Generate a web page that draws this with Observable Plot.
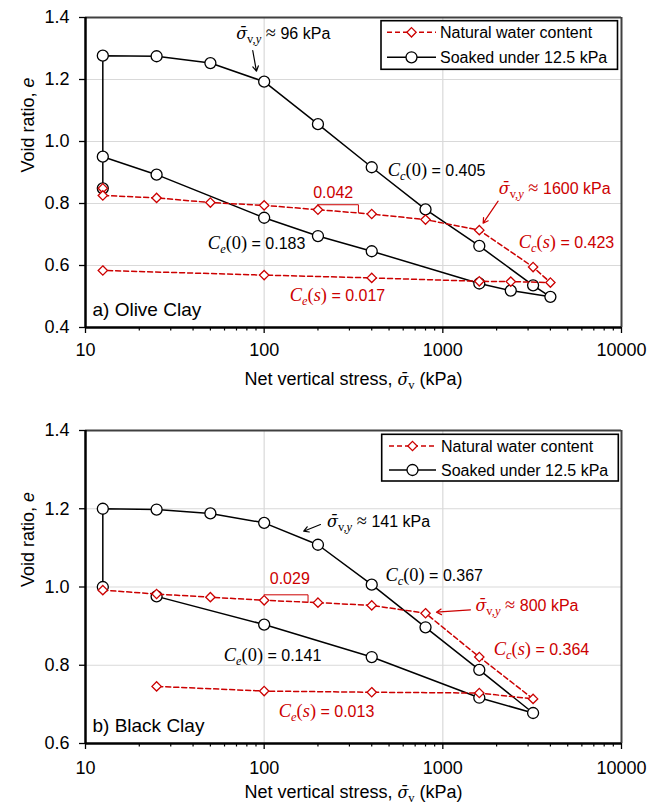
<!DOCTYPE html>
<html><head><meta charset="utf-8">
<script src="https://cdn.jsdelivr.net/npm/d3@7"></script>
<script src="https://cdn.jsdelivr.net/npm/@observablehq/plot@0.6"></script>
<style>body{margin:0;background:#fff} svg{display:block}</style>
</head><body><div id="chart"></div>
<script>
const RED = "#cc0000";

// ---------- a) Olive Clay ----------
const oliveNatStress = [12.5, 12.5, 25, 50, 100, 200, 400, 800, 1600, 3200, 4000, 2400, 1600, 400, 100, 12.5];
const oliveNatE      = [0.849, 0.826, 0.818, 0.803, 0.794, 0.780, 0.766, 0.748, 0.714, 0.595, 0.545, 0.548, 0.549, 0.560, 0.569, 0.584];
const oliveSoakStress = [12.5, 12.5, 25, 50, 100, 200, 400, 800, 1600, 3200, 4000, 2400, 1600, 400, 200, 100, 25, 12.5];
const oliveSoakE      = [0.849, 1.277, 1.275, 1.253, 1.193, 1.056, 0.917, 0.781, 0.663, 0.536, 0.499, 0.519, 0.542, 0.646, 0.695, 0.754, 0.893, 0.951];

// ---------- b) Black Clay ----------
const blackNatStress = [12.5, 25, 50, 100, 200, 400, 800, 1600, 3200, 1600, 400, 100, 25];
const blackNatE      = [0.992, 0.982, 0.974, 0.966, 0.960, 0.953, 0.933, 0.821, 0.714, 0.729, 0.731, 0.734, 0.746];
const blackSoakStress = [12.5, 12.5, 25, 50, 100, 200, 400, 800, 1600, 3200, 1600, 400, 100, 25];
const blackSoakE      = [1.000, 1.200, 1.198, 1.188, 1.164, 1.108, 1.006, 0.897, 0.788, 0.678, 0.717, 0.821, 0.904, 0.976];

// ---------- axes ----------
const xMajorTicks = [10, 100, 1000, 10000];
const xMinorTicks = [20,30,40,50,60,70,80,90,200,300,400,500,600,700,800,900,2000,3000,4000,5000,6000,7000,8000,9000];
const topYTicks = [0.4, 0.6, 0.8, 1.0, 1.2, 1.4];
const botYTicks = [0.6, 0.8, 1.0, 1.2, 1.4];
const SIG = "σ\u0304";
const xTitle = `Net vertical stress, [g:${SIG}][sub:v] (kPa)`;
const yTitle = "Void ratio, [si:e]";
const legendLabels = ["Natural water content", "Soaked under 12.5 kPa"];

// ---------- annotations ----------
const topAnnText = [`[g:${SIG}][sub:v,][isub:y][r: ≈ ]96 kPa`, "[i:C][isub:c][r:(0)] = 0.405", `[g:${SIG}][sub:v,][isub:y][r: ≈ ]1600 kPa`,
  "[i:C][isub:c][r:(][i:s][r:)] = 0.423", "0.042", "[i:C][isub:e][r:(0)] = 0.183", "[i:C][isub:e][r:(][i:s][r:)] = 0.017"];
const topAnnX = [69.7, 491.7, 2055, 2659, 188, 48.4, 139];
const topAnnY = [1.3306, 0.8903, 0.8313, 0.6558, 0.8184, 0.6539, 0.4839];
const topAnnColor = ["black", "black", RED, RED, RED, "black", RED];
const topArrowX1 = [86.3, 2039], topArrowY1 = [1.2935, 0.8074], topArrowX2 = [90.5, 1681], topArrowY2 = [1.2268, 0.7365];
const topArrowColor = ["black", RED];
const topSlopeX = [200, 337, 337], topSlopeY = [0.796, 0.796, 0.771];

const botAnnText = [`[g:${SIG}][sub:v,][isub:y][r: ≈ ]141 kPa`, "[i:C][isub:c][r:(0)] = 0.367", "0.029", `[g:${SIG}][sub:v,][isub:y][r: ≈ ]800 kPa`,
  "[i:C][isub:c][r:(][i:s][r:)] = 0.364", "[i:C][isub:e][r:(0)] = 0.141", "[i:C][isub:e][r:(][i:s][r:)] = 0.013"];
const botAnnX = [225, 477, 107.5, 1522, 1927, 59.4, 120.7];
const botAnnY = [1.1528, 1.0166, 1.0081, 0.9399, 0.8267, 0.8104, 0.6672];
const botAnnColor = ["black", "black", RED, RED, RED, "black", RED];
const botArrowX1 = [206.5, 1427], botArrowY1 = [1.1597, 0.9417], botArrowX2 = [166.5, 921], botArrowY2 = [1.1426, 0.9356];
const botArrowColor = ["black", RED];
const botSlopeX = [100, 176, 176], botSlopeY = [0.98, 0.98, 0.961];

const zip = (xs, ys) => xs.map((x, i) => ({x, y: ys[i]}));

const SANS = "'Liberation Sans', Arial, sans-serif";
const SERIF = "'Liberation Serif', 'Times New Roman', serif";
const GREEK = "'DejaVu Serif', serif";

function richify(svg) {
  d3.select(svg).selectAll("text").each(function () {
    const s = this.textContent;
    if (!s.includes("[")) return;
    const segs = [];
    const re = /\[(\w+):([^\]]*)\]/g;
    let last = 0, m;
    while ((m = re.exec(s))) {
      if (m.index > last) segs.push(["sans", s.slice(last, m.index)]);
      segs.push([m[1], m[2]]);
      last = re.lastIndex;
    }
    if (last < s.length) segs.push(["sans", s.slice(last)]);
    this.textContent = "";
    const el = d3.select(this);
    const base = parseFloat(getComputedStyle(this).fontSize) || 16;
    let shift = 0;
    for (const [k, t] of segs) {
      const ts = el.append("tspan").text(t).attr("xml:space", "preserve");
      let want = 0;
      if (k === "i" || k === "r") {
        ts.attr("font-family", SERIF).attr("font-size", base * 1.15).attr("font-style", k === "i" ? "italic" : "normal");
      } else if (k === "g") {
        ts.attr("font-family", GREEK).attr("font-size", base * 1.0).attr("font-style", "italic");
      } else if (k === "sub" || k === "isub") {
        ts.attr("font-family", SERIF).attr("font-size", base * 0.78).attr("font-style", k === "isub" ? "italic" : "normal");
        want = base * 0.25;
      } else if (k === "si") {
        ts.attr("font-style", "italic");
      }
      if (want !== shift) { ts.attr("dy", want - shift); shift = want; }
    }
  });
}

function addLegend(svg, box, rowY, lineX1, lineX2, textX) {
  const g = d3.select(svg).append("g");
  g.append("rect").attr("x", box[0]).attr("y", box[1]).attr("width", box[2]).attr("height", box[3])
    .attr("fill", "white").attr("stroke", "black").attr("stroke-width", 1.6);
  const styles = [
    {stroke: RED, dash: "5,3", sym: d3.symbolDiamond2, r: 4.2},
    {stroke: "black", dash: null, sym: d3.symbolCircle, r: 5.5}
  ];
  legendLabels.forEach((lab, i) => {
    const st = styles[i], y = rowY[i];
    g.append("line").attr("x1", lineX1).attr("x2", lineX2).attr("y1", y).attr("y2", y)
      .attr("stroke", st.stroke).attr("stroke-width", 1.5).attr("stroke-dasharray", st.dash);
    g.append("path").attr("d", d3.symbol(st.sym, Math.PI * st.r * st.r)())
      .attr("transform", `translate(${(lineX1 + lineX2) / 2},${y})`)
      .attr("fill", "white").attr("stroke", st.stroke).attr("stroke-width", 1.3);
    g.append("text").attr("x", textX).attr("y", y).attr("dy", "0.36em").attr("text-anchor", "start")
      .attr("font-family", SANS).attr("font-size", 16).attr("fill", "black").text(lab);
  });
}

function panel(o) {
  const nat = zip(o.natS, o.natE), soak = zip(o.soakS, o.soakE);
  const ann = o.annText.map((t, i) => ({t, x: o.annX[i], y: o.annY[i], c: o.annColor[i]}));
  const arrows = o.arX1.map((x1, i) => ({x1, y1: o.arY1[i], x2: o.arX2[i], y2: o.arY2[i], c: o.arColor[i]}));
  const slope = zip(o.slopeX, o.slopeY);
  const gridYs = o.yTicks.filter(v => v > o.yDomain[0] && v < o.yDomain[1]);
  const svg = Plot.plot({
    width: 660, height: o.height,
    marginLeft: 85, marginRight: 39, marginTop: o.marginTop, marginBottom: o.marginBottom,
    x: {type: "log", domain: [10, 10000]},
    y: {domain: o.yDomain},
    style: {fontFamily: SANS, fontSize: "16px", color: "black", background: "white"},
    marks: [
      Plot.gridX([100, 1000], {stroke: "#d9d9d9", strokeOpacity: 1, strokeWidth: 1.2}),
      Plot.gridY(gridYs, {stroke: "#d9d9d9", strokeOpacity: 1, strokeWidth: 1.2}),
      Plot.ruleY([o.yDomain[1]], {stroke: "#404040", strokeWidth: 2}),
      Plot.ruleX([10000], {stroke: "#404040", strokeWidth: 2}),
      Plot.ruleX([10], {stroke: "black", strokeWidth: 2.5}),
      Plot.ruleY([o.yDomain[0]], {stroke: "black", strokeWidth: 2.5}),
      Plot.axisX({ticks: xMajorTicks, tickFormat: d => String(d), tickSize: 6, tickPadding: o.tickPadX, fontSize: 18, label: null, strokeWidth: 1.3}),
      Plot.axisX({ticks: xMinorTicks, tickFormat: () => "", tickSize: 3.5, label: null, strokeWidth: 1.2}),
      Plot.axisY({ticks: o.yTicks, tickFormat: d3.format(".1f"), tickSize: 6, tickPadding: 10, fontSize: 18, label: null, strokeWidth: 1.3}),
      Plot.line(soak, {x: "x", y: "y", stroke: "black", strokeWidth: 1.5}),
      Plot.dot(soak, {x: "x", y: "y", r: 5.5, stroke: "black", fill: "white", strokeWidth: 1.3}),
      Plot.line(nat, {x: "x", y: "y", stroke: RED, strokeWidth: 1.5, strokeDasharray: "5,3"}),
      Plot.dot(nat, {x: "x", y: "y", r: 4.2, symbol: "diamond2", stroke: RED, fill: "white", strokeWidth: 1.3}),
      Plot.line(slope, {x: "x", y: "y", stroke: RED, strokeWidth: 1}),
      Plot.arrow(arrows, {x1: "x1", y1: "y1", x2: "x2", y2: "y2", stroke: "c", strokeWidth: 1.2, headLength: 7}),
      Plot.text(ann, {x: "x", y: "y", text: "t", fill: "c", textAnchor: "start", lineAnchor: "bottom", fontSize: 16}),
      Plot.text([o.panelLabel], {x: () => 10.94, y: () => o.labelY, textAnchor: "start", lineAnchor: "bottom", fontSize: 19}),
      Plot.text([xTitle], {frameAnchor: "bottom", dy: o.xTitleDy, lineAnchor: "bottom", fontSize: 18}),
      Plot.text([yTitle], {frameAnchor: "left", dx: -52, rotate: -90, lineAnchor: "bottom", fontSize: 18})
    ]
  });
  richify(svg);
  addLegend(svg, o.legendBox, o.legendRows, o.legendX1, o.legendX2, o.legendTextX);
  return svg;
}

const root = document.getElementById("chart");
root.append(panel({
  natS: oliveNatStress, natE: oliveNatE, soakS: oliveSoakStress, soakE: oliveSoakE,
  yDomain: [0.4, 1.4], yTicks: topYTicks, height: 400, marginTop: 17, marginBottom: 73, tickPadX: 10, xTitleDy: 57,
  annText: topAnnText, annX: topAnnX, annY: topAnnY, annColor: topAnnColor,
  arX1: topArrowX1, arY1: topArrowY1, arX2: topArrowX2, arY2: topArrowY2, arColor: topArrowColor,
  slopeX: topSlopeX, slopeY: topSlopeY, panelLabel: "a) Olive Clay", labelY: 0.4365,
  legendBox: [381, 20.7, 236.5, 48.6], legendRows: [32.3, 57.3], legendX1: 387, legendX2: 436, legendTextX: 440
}));
root.append(panel({
  natS: blackNatStress, natE: blackNatE, soakS: blackSoakStress, soakE: blackSoakE,
  yDomain: [0.6, 1.4], yTicks: botYTicks, height: 405, marginTop: 30, marginBottom: 62, tickPadX: 12, xTitleDy: 54,
  annText: botAnnText, annX: botAnnX, annY: botAnnY, annColor: botAnnColor,
  arX1: botArrowX1, arY1: botArrowY1, arX2: botArrowX2, arY2: botArrowY2, arColor: botArrowColor,
  slopeX: botSlopeX, slopeY: botSlopeY, panelLabel: "b) Black Clay", labelY: 0.6306,
  legendBox: [381.7, 34.3, 236.6, 46.7], legendRows: [46, 70], legendX1: 389, legendX2: 436, legendTextX: 441
}));
</script>
</body></html>
